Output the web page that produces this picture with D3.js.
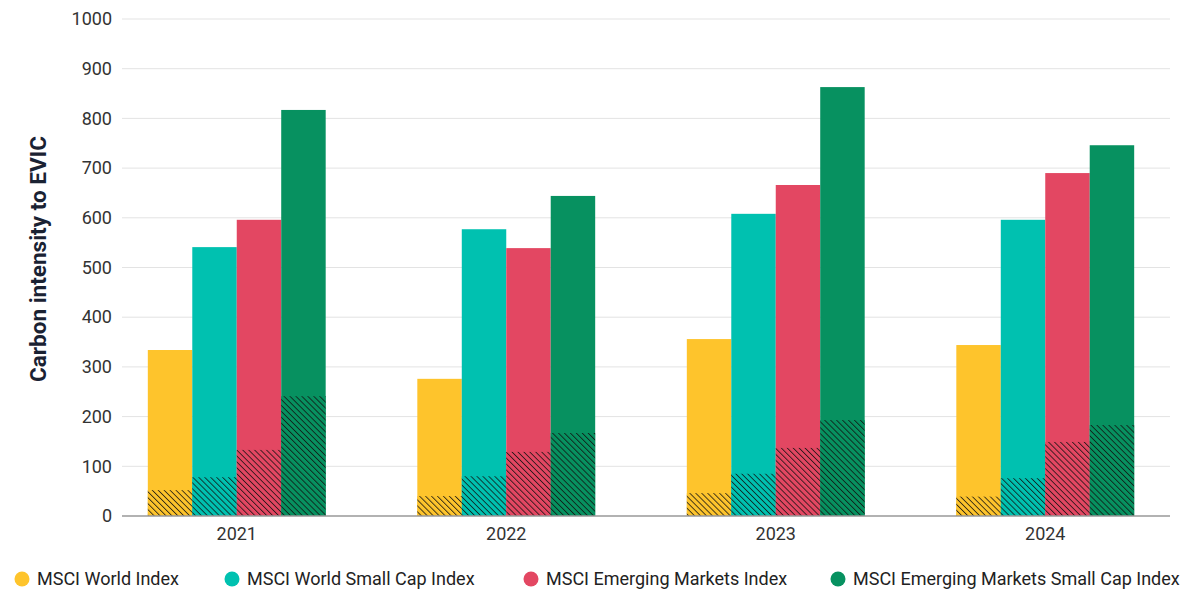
<!DOCTYPE html>
<html><head><meta charset="utf-8">
<script src="https://cdn.jsdelivr.net/npm/d3@7"></script>
<style>body{margin:0;background:#fff}svg{display:block;font-family:Roboto,sans-serif}</style>
</head><body>
<svg id="chart" width="1200" height="600"></svg>
<script>
const years = ["2021","2022","2023","2024"];
const seriesNames = ["MSCI World Index","MSCI World Small Cap Index","MSCI Emerging Markets Index","MSCI Emerging Markets Small Cap Index"];
const colors = ["#fec42c","#00c1b0","#e34762","#079160"];
// total carbon intensity per series, by year
const worldTotal = [334, 276, 356, 344];
const worldSmallTotal = [541, 577, 608, 596];
const emTotal = [596, 539, 666, 690];
const emSmallTotal = [817, 644, 863, 746];
// hatched lower portion per series, by year
const worldHatch = [52, 40, 46, 39];
const worldSmallHatch = [78, 80, 85, 76];
const emHatch = [133, 129, 137, 149];
const emSmallHatch = [241, 167, 193, 183];
const yTicks = [0,100,200,300,400,500,600,700,800,900,1000];

const totals = [worldTotal, worldSmallTotal, emTotal, emSmallTotal];
const hatches = [worldHatch, worldSmallHatch, emHatch, emSmallHatch];

const svg = d3.select("#chart");
const y = d3.scaleLinear().domain([0,1000]).range([516,19]);
const x0 = d3.scaleBand().domain(years).range([102,1180]).paddingInner(0.34).paddingOuter(0.17);
const x1 = d3.scaleBand().domain(d3.range(4)).range([0,x0.bandwidth()]);

const defs = svg.append("defs");
colors.forEach((c,i)=>{
  const p = defs.append("pattern").attr("id","hatch"+i).attr("patternUnits","userSpaceOnUse")
    .attr("width",4.2).attr("height",4.2).attr("patternTransform","rotate(-45)");
  p.append("rect").attr("width",4.2).attr("height",4.2).attr("fill",c);
  p.append("line").attr("x1",0).attr("y1",0).attr("x2",0).attr("y2",4.2).attr("stroke","#111").attr("stroke-width",1.8).attr("stroke-opacity",0.85);
});

// grid
svg.append("g").selectAll("line").data(yTicks.filter(d=>d>0)).join("line")
  .attr("x1",122).attr("x2",1170).attr("y1",d=>y(d)).attr("y2",d=>y(d))
  .attr("stroke","#e3e3e3").attr("stroke-width",1);

// y axis labels
const yAxis = svg.append("g").attr("transform","translate(122,0)")
  .call(d3.axisLeft(y).tickValues(yTicks).tickSize(0).tickPadding(10).tickFormat(d3.format("d")));
yAxis.select(".domain").remove();
yAxis.selectAll("text").attr("font-size",18).attr("fill","#333").attr("font-family","Roboto,sans-serif");

// bars
const rows = [];
years.forEach((yr,yi)=>{ for(let s=0;s<4;s++) rows.push({yr, s, total: totals[s][yi], hatch: hatches[s][yi]}); });
const g = svg.append("g");
g.selectAll("rect.total").data(rows).join("rect").attr("class","total")
  .attr("x",d=>x0(d.yr)+x1(d.s)).attr("width",x1.bandwidth())
  .attr("y",d=>y(d.total)).attr("height",d=>y(0)-y(d.total)).attr("fill",d=>colors[d.s]);
g.selectAll("rect.hatch").data(rows).join("rect").attr("class","hatch")
  .attr("x",d=>x0(d.yr)+x1(d.s)).attr("width",x1.bandwidth())
  .attr("y",d=>y(d.hatch)).attr("height",d=>y(0)-y(d.hatch)).attr("fill",d=>"url(#hatch"+d.s+")");

// x axis
const xAxis = svg.append("g").attr("transform","translate(0,516)")
  .call(d3.axisBottom(x0).tickSize(0).tickPadding(11));
xAxis.select(".domain").attr("d","M122,0H1170").attr("stroke","#999").attr("stroke-width",1.5);
xAxis.selectAll("text").attr("font-size",18).attr("fill","#333").attr("font-family","Roboto,sans-serif");

// y title
svg.append("text").attr("transform","translate(46,259) rotate(-90)").attr("text-anchor","middle")
  .attr("font-size",22.5).attr("font-weight","bold").attr("fill","#1a2233").text("Carbon intensity to EVIC");

// legend
const legendX = [22, 232, 531, 838];
const lg = svg.append("g").selectAll("g").data(seriesNames).join("g")
  .attr("transform",(d,i)=>`translate(${legendX[i]},579)`);
lg.append("circle").attr("r",7.5).attr("fill",(d,i)=>colors[i]);
lg.append("text").attr("x",15).attr("dy","0.35em").attr("font-size",18).attr("fill","#222").text(d=>d);
</script>
</body></html>
